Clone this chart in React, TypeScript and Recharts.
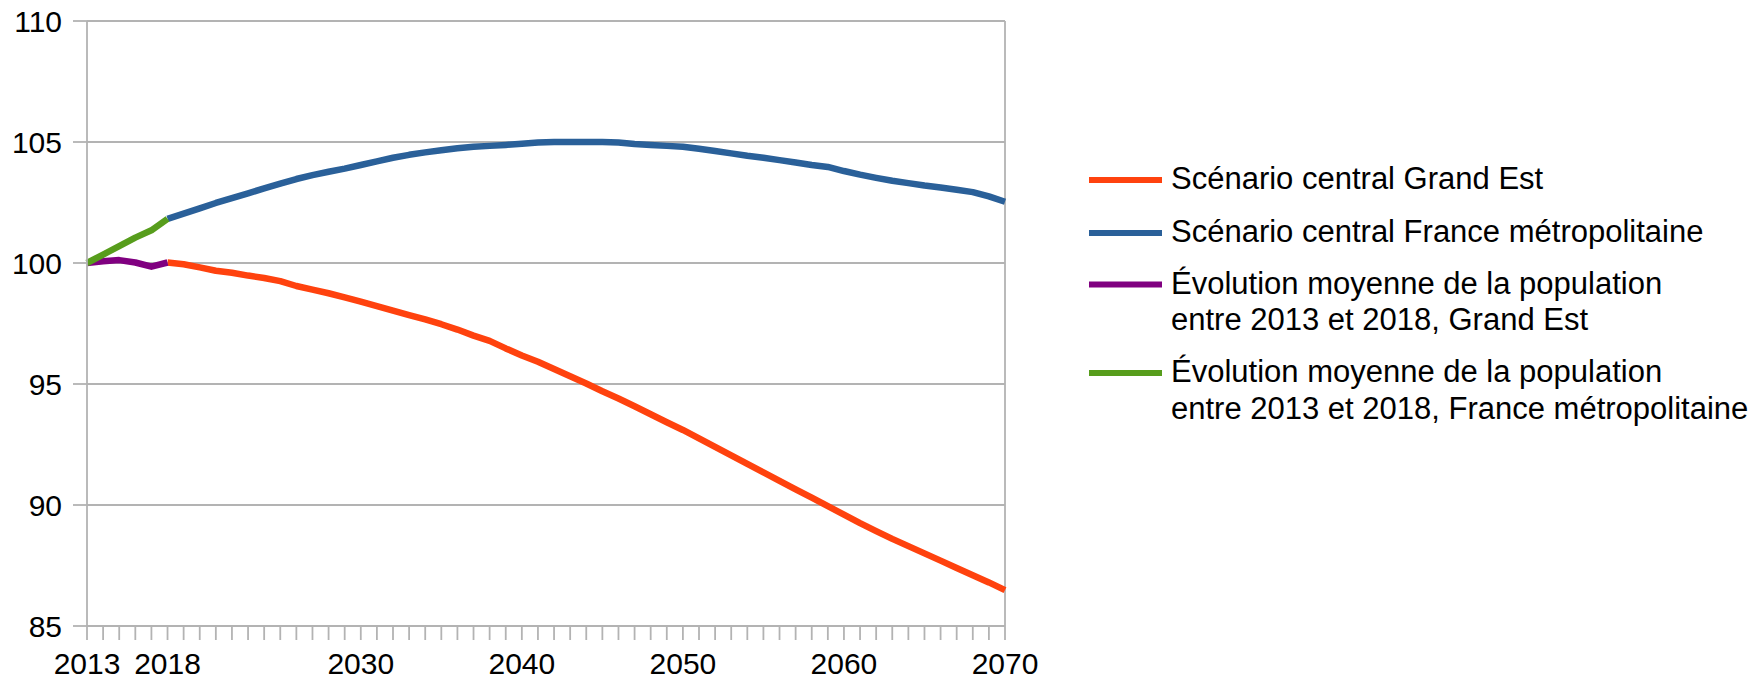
import { CartesianGrid, Line, LineChart, ReferenceLine, XAxis, YAxis } from 'recharts';

const years = [
  2013, 2014, 2015, 2016, 2017, 2018, 2019, 2020, 2021, 2022, 2023, 2024, 2025, 2026, 2027, 2028, 2029, 2030,
  2031, 2032, 2033, 2034, 2035, 2036, 2037, 2038, 2039, 2040, 2041, 2042, 2043, 2044, 2045, 2046, 2047, 2048,
  2049, 2050, 2051, 2052, 2053, 2054, 2055, 2056, 2057, 2058, 2059, 2060, 2061, 2062, 2063, 2064, 2065, 2066,
  2067, 2068, 2069, 2070,
];
const labelYears = [2013, 2018, 2030, 2040, 2050, 2060, 2070];
const yTicks = [85, 90, 95, 100, 105, 110];

// 2013-2018
const grandEstPast = [100, 100.07, 100.12, 100.02, 99.85, 100.02];
const francePast = [100, 100.35, 100.7, 101.05, 101.35, 101.82];

// 2018-2070
const grandEstCentral = [
  100.02, 99.95, 99.82, 99.68, 99.6, 99.48, 99.38, 99.25, 99.05, 98.9, 98.75, 98.58, 98.4, 98.22, 98.03, 97.85,
  97.67, 97.47, 97.25, 97.0, 96.78, 96.47, 96.18, 95.92, 95.62, 95.32, 95.02, 94.7, 94.4, 94.08, 93.75, 93.42,
  93.1, 92.75, 92.4, 92.05, 91.7, 91.35, 91.0, 90.65, 90.3, 89.95, 89.6, 89.25, 88.92, 88.6, 88.3, 88.0, 87.7,
  87.4, 87.1, 86.8, 86.48,
];
const franceCentral = [
  101.82, 102.04, 102.26, 102.48, 102.68, 102.88, 103.08, 103.28, 103.47, 103.63, 103.77, 103.9, 104.05, 104.2,
  104.35, 104.47, 104.57, 104.66, 104.74, 104.8, 104.84, 104.88, 104.93, 104.98, 105.0, 105.0, 105.0, 105.0,
  104.98, 104.92, 104.88, 104.84, 104.8, 104.72, 104.63, 104.53, 104.43, 104.35, 104.25, 104.15, 104.05, 103.97,
  103.8, 103.65, 103.52, 103.4, 103.3, 103.2, 103.12, 103.03, 102.93, 102.75, 102.53,
];

const series = [
  { key: 'geCentral', color: '#ff420e', label: ['Scénario central Grand Est'] },
  { key: 'frCentral', color: '#2a6099', label: ['Scénario central France métropolitaine'] },
  { key: 'gePast', color: '#800080', label: ['Évolution moyenne de la population', 'entre 2013 et 2018, Grand Est'] },
  {
    key: 'frPast',
    color: '#579d1c',
    label: ['Évolution moyenne de la population', 'entre 2013 et 2018, France métropolitaine'],
  },
];

const data = years.map((year, i) => ({
  year,
  gePast: i < grandEstPast.length ? grandEstPast[i] : undefined,
  frPast: i < francePast.length ? francePast[i] : undefined,
  geCentral: i >= 5 ? grandEstCentral[i - 5] : undefined,
  frCentral: i >= 5 ? franceCentral[i - 5] : undefined,
}));

const FONT = '"Liberation Sans", Arial, sans-serif';
const GRID = '#b3b3b3';

const XTick = (props: any) => {
  const { x, y, payload } = props;
  if (!labelYears.includes(payload.value)) return <g />;
  return (
    <text x={x} y={y} dy="0.71em" textAnchor="middle" fontSize={30} fontFamily={FONT} fill="#000">
      {payload.value}
    </text>
  );
};

// legend baselines, first line of each item
const legendRows = [189, 242, 293.5, 382];

function LegendOverlay() {
  return (
    <svg width={1757} height={680} style={{ position: 'absolute', left: 0, top: 0, pointerEvents: 'none' }}>
      {series.map((s, i) => (
        <g key={s.key}>
          <line x1={1089} x2={1162} y1={legendRows[i] - 9} y2={legendRows[i] - 9} stroke={s.color} strokeWidth={6} />
          {s.label.map((line, j) => (
            <text key={j} x={1171} y={legendRows[i] + j * 36.5} fontSize={31} fontFamily={FONT} fill="#000">
              {line}
            </text>
          ))}
        </g>
      ))}
    </svg>
  );
}

export default function App() {
  return (
    <div style={{ position: 'absolute', left: 0, top: 0, width: 1757, height: 680, background: '#fff' }}>
      <LineChart
        width={1757}
        height={680}
        data={data}
        margin={{ top: 21, right: 752, left: 0, bottom: 0 }}
        style={{ fontFamily: FONT }}
      >
        <CartesianGrid vertical={false} stroke={GRID} strokeWidth={1.8} />
        <XAxis
          dataKey="year"
          type="category"
          interval={0}
          height={54}
          tickSize={14}
          tickMargin={13}
          axisLine={{ stroke: GRID, strokeWidth: 1.8 }}
          tickLine={{ stroke: GRID, strokeWidth: 1.8 }}
          tick={<XTick />}
        />
        <YAxis
          domain={[85, 110]}
          ticks={yTicks}
          width={87}
          tickSize={14}
          tickMargin={11}
          axisLine={{ stroke: GRID, strokeWidth: 1.8 }}
          tickLine={{ stroke: GRID, strokeWidth: 1.8 }}
          tick={{ fontSize: 30, fill: '#000', fontFamily: FONT }}
        />
        <ReferenceLine x={2070} stroke={GRID} strokeWidth={1.8} />
        {series.map((s) => (
          <Line
            key={s.key}
            type="linear"
            dataKey={s.key}
            stroke={s.color}
            strokeWidth={6.5}
            strokeLinejoin="round"
            dot={false}
            activeDot={false}
            isAnimationActive={false}
          />
        ))}
      </LineChart>
      <LegendOverlay />
    </div>
  );
}
